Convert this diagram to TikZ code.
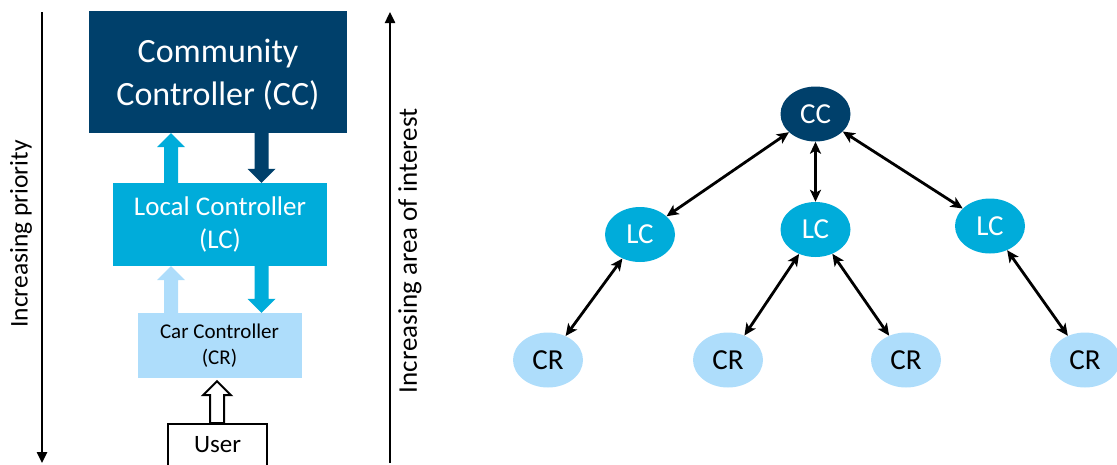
\documentclass[tikz,border=0pt]{standalone}
\usepackage{fontspec}
\setmainfont{Carlito}
\usetikzlibrary{arrows.meta,shapes.geometric,calc}
\definecolor{ccblue}{RGB}{0,64,107}
\definecolor{lcblue}{RGB}{0,172,218}
\definecolor{crblue}{RGB}{174,221,251}
\newcommand\blockarrow[3]{%
  \coordinate (hb) at ($(#3)!14pt!(#2)$);
  \path[#1] ($(#2)+(-7pt,0)$) -- ($(hb)+(-7pt,0)$) -- ($(hb)+(-14pt,0)$) -- (#3)
    -- ($(hb)+(14pt,0)$) -- ($(hb)+(7pt,0)$) -- ($(#2)+(7pt,0)$) -- cycle;}
\tikzset{
  box/.style={rectangle, inner sep=0pt, align=center},
  gnode/.style={ellipse, minimum width=70pt, minimum height=55pt, inner sep=0pt,
    font=\fontsize{29}{30}\selectfont},
  link/.style={line width=2.8pt, {Stealth[length=12pt,width=11pt,inset=3pt]}-{Stealth[length=12pt,width=11pt,inset=3pt]}},
  axis/.style={line width=2.4pt, -{Triangle[length=11pt,width=10pt]}},
  sidelabel/.style={rotate=90, font=\fontsize{25.5}{30}\selectfont},
}
\begin{document}
\begin{tikzpicture}[x=1pt,y=-1pt]
\useasboundingbox (0,0) rectangle (1117,464);
% boxes
\node[box, fill=ccblue, text=white, minimum width=258pt, minimum height=122pt, text depth=0pt,
  font=\fontsize{34}{43}\selectfont] (CC) at (218,72) {Community\\Controller (CC)};
\node[box, fill=lcblue, text=white, minimum width=214pt, minimum height=83pt,
  font=\fontsize{27}{33}\selectfont] (LC) at (220,224.5) {Local Controller\\(LC)};
\node[box, fill=crblue, text=black, minimum width=164pt, minimum height=65pt,
  font=\fontsize{21}{26}\selectfont] (CR) at (219.5,345.5) {Car Controller\\(CR)};
\node[rectangle, draw=black, line width=2pt, fill=white, anchor=north,
  minimum width=99pt, inner xsep=0pt, inner ysep=12pt, text height=16pt, text depth=30pt,
  font=\fontsize{25}{30}\selectfont] (User) at (217.5,423) {User};
% block arrows
\path (LC.north) ++(-49,0) coordinate (a1s);
\coordinate (a1t) at (a1s |- CC.south);
\blockarrow{fill=lcblue}{a1s}{a1t}
\path (CC.south) ++(43.5,0) coordinate (a2s);
\coordinate (a2t) at (a2s |- LC.north);
\blockarrow{fill=ccblue}{a2s}{a2t}
\path (CR.north) ++(-48.5,0) coordinate (a3s);
\coordinate (a3t) at (a3s |- LC.south);
\blockarrow{fill=crblue}{a3s}{a3t}
\path (LC.south) ++(41.5,0) coordinate (a4s);
\coordinate (a4t) at (a4s |- CR.north);
\blockarrow{fill=lcblue}{a4s}{a4t}
\path (User.north) ++(-0.5,0) coordinate (a5s);
\path (a5s |- CR.south) ++(0,3) coordinate (a5t);
\blockarrow{fill=white, draw=black, line width=2pt, line join=miter}{a5s}{a5t}
% side axes
\coordinate (p1) at (42,12);
\coordinate (p2) at (42,463);
\draw[axis] (p1) -- (p2);
\node[sidelabel] (prio) at (21,234) {Increasing priority};
\coordinate (q1) at (390,463);
\coordinate (q2) at (390,12);
\draw[axis] (q1) -- (q2);
\node[sidelabel, font=\fontsize{27}{30}\selectfont] (area) at (410,251) {Increasing area of interest};
% graph
\node[gnode, fill=ccblue, text=white] (gCC) at (815.5,114) {CC};
\node[gnode, fill=lcblue, text=white] (gLC1) at (640,234.5) {LC};
\node[gnode, fill=lcblue, text=white] (gLC2) at (815.5,229.5) {LC};
\node[gnode, fill=lcblue, text=white] (gLC3) at (990,226) {LC};
\node[gnode, fill=crblue] (gCR1) at (548,360) {CR};
\node[gnode, fill=crblue] (gCR2) at (728,360) {CR};
\node[gnode, fill=crblue] (gCR3) at (906,360) {CR};
\node[gnode, fill=crblue] (gCR4) at (1085,360) {CR};
\draw[link] (gCC) -- (gLC1);
\draw[link] (gCC) -- (gLC2);
\draw[link] (gCC) -- (gLC3);
\draw[link] (gLC1) -- (gCR1);
\draw[link] (gLC2) -- (gCR2);
\draw[link] (gLC2) -- (gCR3);
\draw[link] (gLC3) -- (gCR4);
\end{tikzpicture}
\end{document}
